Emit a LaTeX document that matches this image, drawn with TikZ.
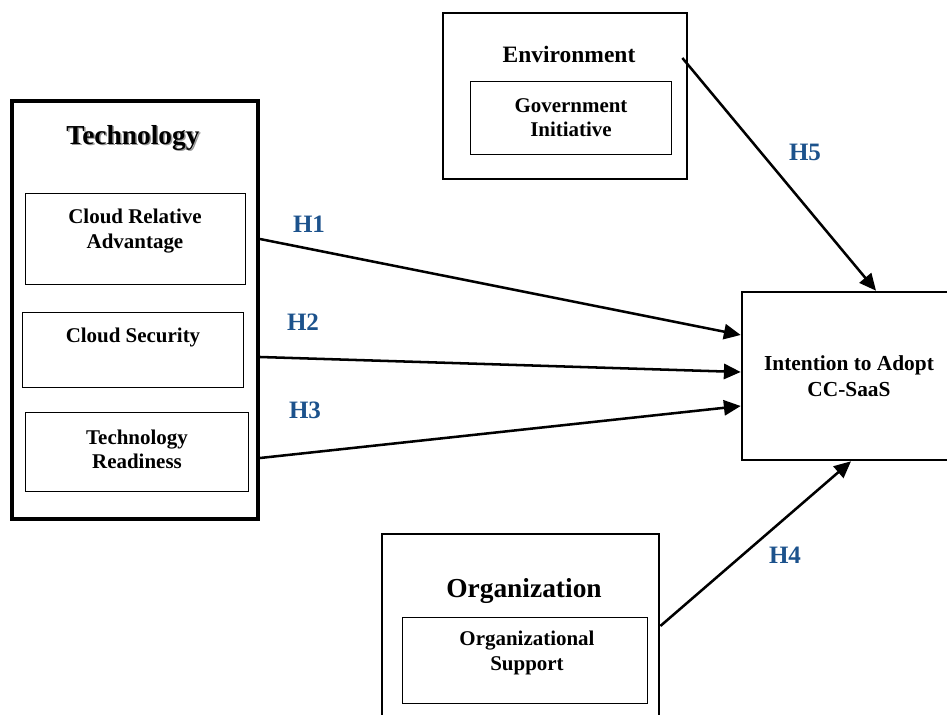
\documentclass[tikz,border=0pt]{standalone}
\usepackage{fontspec}
\setmainfont{Liberation Serif}
\usepackage{xcolor}
\usetikzlibrary{positioning, arrows.meta, calc}

\definecolor{hypblue}{RGB}{28,82,140}

\begin{document}
\begin{tikzpicture}[
      x=0.025cm, y=-0.025cm,
      font=\bfseries\fontsize{14.9}{17.2}\selectfont,
      outer/.style={draw, line width=1.8pt},
      inbox/.style={draw, line width=0.7pt},
      txt/.style={align=center, inner sep=0pt},
      head/.style={inner sep=0pt, font=\bfseries\fontsize{19.5}{22}\selectfont},
      hyp/.style={inner sep=0pt, text=hypblue, font=\bfseries\fontsize{17.8}{20}\selectfont},
      arr/.style={-{Triangle[length=4.2mm, width=3.8mm]}, line width=1.8pt}
    ]
    \useasboundingbox (0,0) rectangle (947,715);
    %% Technology block with its three factors
    \node[outer, line width=2.8pt, minimum width=6.15cm, minimum height=10.45cm] (tech) at (135,310) {};
    \node[head, text=black!40] (techshadow) at (134.5,139.5) {Technology};
    \node[head] (techtitle) at (133,138) {Technology};
    \node[inbox, minimum width=5.475cm, minimum height=2.25cm] (cra) at (135.5,239) {};
    \node[txt] (cratext) at (135,231) {Cloud Relative\\Advantage};
    \node[inbox, minimum width=5.5cm, minimum height=1.85cm] (cs) at (133,350) {};
    \node[txt] (cstext) at (133,337) {Cloud Security};
    \node[inbox, minimum width=5.55cm, minimum height=1.95cm] (tr) at (137,452) {};
    \node[txt] (trtext) at (137,449) {Technology\\Readiness};
    %% Environment block
    \node[outer, line width=1.9pt, minimum width=6.1cm, minimum height=4.15cm] (env) at (565,96) {};
    \node[txt, font=\bfseries\fontsize{16.7}{19}\selectfont] (envtitle) at (569,54) {Environment};
    \node[inbox, minimum width=5cm, minimum height=1.8cm] (gi) at (571,118) {};
    \node[txt] (gitext) at (571,118) {Government\\Initiative};
    %% Organization block
    \node[outer, line width=1.9pt, minimum width=6.925cm, minimum height=4.775cm] (org) at (520.5,629.5) {};
    \node[head] (orgtitle) at (524,591) {Organization};
    \node[inbox, minimum width=6.1cm, minimum height=2.15cm] (os) at (525,660) {};
    \node[txt] (ostext) at (527,653) {Organizational\\Support};
    %% dependent variable
    \node[outer, minimum width=5.35cm, minimum height=4.2cm, align=center,
          font=\bfseries\fontsize{15.2}{18.5}\selectfont] (intent) at (849,376) {Intention to Adopt\\CC-SaaS};
    %% hypotheses
    \draw[arr] (cra -| tech.east) -- ([yshift=1.025cm]intent.west);
    \draw[arr] ($(cs -| tech.east)+(0,7)$) -- ([yshift=0.1cm]intent.west);
    \draw[arr] ($(tr -| tech.east)+(0,6)$) -- ([yshift=-0.75cm]intent.west);
    \draw[arr] ($(envtitle -| env.east)+(-6,4)$) -- ([xshift=0.675cm]intent.north);
    \draw[arr] ($(org.east)+(0,-3.5)$) -- ([xshift=0.05cm]intent.south);
    \node[hyp] (h1) at (309,224) {H1};
    \node[hyp] (h2) at (303,322) {H2};
    \node[hyp] (h3) at (305,410) {H3};
    \node[hyp] (h5) at (805,152) {H5};
    \node[hyp] (h4) at (785,555) {H4};
  \end{tikzpicture}
\end{document}
